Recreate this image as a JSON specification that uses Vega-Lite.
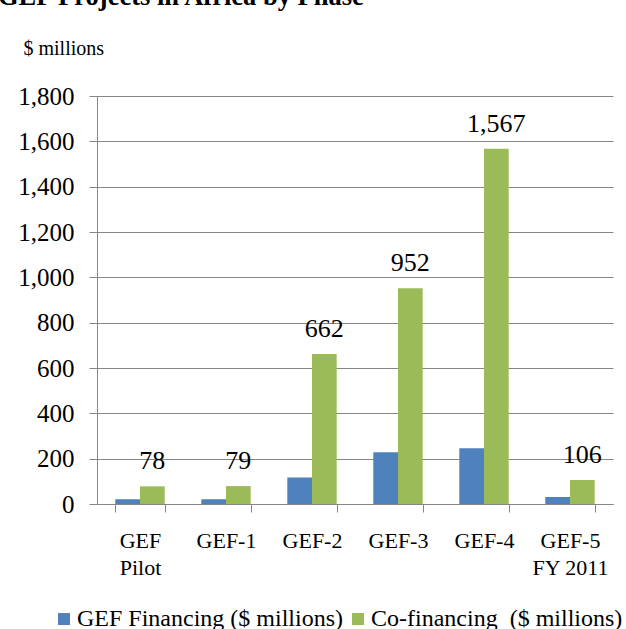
{
  "$schema": "https://vega.github.io/schema/vega-lite/v6.json",
  "autosize": {"type": "none"},
  "width": 516,
  "height": 408,
  "padding": {"left": 97, "top": 96, "right": 13, "bottom": 125},
  "background": "white",
  "title": {
    "text": "GEF Projects in Africa by Phase",
    "anchor": "start",
    "frame": "group",
    "font": "Liberation Serif",
    "fontSize": 26.5,
    "fontWeight": "bold",
    "color": "black",
    "dx": -99,
    "dy": -24
  },
  "data": {
    "values": [
      {"phase": "GEF Pilot", "series": "GEF Financing ($ millions)", "value": 21},
      {"phase": "GEF Pilot", "series": "Co-financing \u00a0($ millions)", "value": 78},
      {"phase": "GEF-1", "series": "GEF Financing ($ millions)", "value": 21},
      {"phase": "GEF-1", "series": "Co-financing \u00a0($ millions)", "value": 79},
      {"phase": "GEF-2", "series": "GEF Financing ($ millions)", "value": 117},
      {"phase": "GEF-2", "series": "Co-financing \u00a0($ millions)", "value": 662},
      {"phase": "GEF-3", "series": "GEF Financing ($ millions)", "value": 228},
      {"phase": "GEF-3", "series": "Co-financing \u00a0($ millions)", "value": 952},
      {"phase": "GEF-4", "series": "GEF Financing ($ millions)", "value": 246},
      {"phase": "GEF-4", "series": "Co-financing \u00a0($ millions)", "value": 1567},
      {"phase": "GEF-5 FY 2011", "series": "GEF Financing ($ millions)", "value": 31},
      {"phase": "GEF-5 FY 2011", "series": "Co-financing \u00a0($ millions)", "value": 106}
    ]
  },
  "encoding": {
    "x": {
      "field": "phase",
      "type": "nominal",
      "sort": null,
      "scale": {"paddingInner": 0.4256, "paddingOuter": 0.2128},
      "axis": {
        "title": null,
        "labelAngle": 0,
        "labelFont": "Liberation Serif",
        "labelFontSize": 22,
        "labelColor": "black",
        "labelLineHeight": 27,
        "labelPadding": 18,
        "labelExpr": "datum.value == 'GEF Pilot' ? ['GEF', 'Pilot'] : datum.value == 'GEF-5 FY 2011' ? ['GEF-5', 'FY 2011'] : datum.value",
        "tickBand": "extent",
        "tickSize": 8,
        "tickColor": "#868686",
        "domainColor": "#868686",
        "grid": false
      }
    },
    "xOffset": {"field": "series", "type": "nominal", "sort": null, "scale": {"paddingInner": 0, "paddingOuter": 0}},
    "y": {
      "field": "value",
      "type": "quantitative",
      "scale": {"domain": [0, 1800], "nice": false},
      "axis": {
        "values": [0, 200, 400, 600, 800, 1000, 1200, 1400, 1600, 1800],
        "format": ",.0f",
        "title": "$ millions",
        "titleAngle": 0,
        "titleAlign": "left",
        "titleBaseline": "alphabetic",
        "titleX": -74,
        "titleY": -42,
        "titleFont": "Liberation Serif",
        "titleFontSize": 20,
        "titleFontWeight": "normal",
        "titleColor": "black",
        "labelFont": "Liberation Serif",
        "labelFontSize": 25,
        "labelColor": "black",
        "labelPadding": 15,
        "tickSize": 8,
        "tickColor": "#868686",
        "domainColor": "#868686",
        "gridColor": "#868686",
        "grid": true
      }
    }
  },
  "layer": [
    {
      "mark": {"type": "bar"},
      "encoding": {
        "color": {
          "field": "series",
          "type": "nominal",
          "sort": null,
          "scale": {"range": ["#4F81BD", "#9BBB59"]},
          "legend": {
            "title": null,
            "orient": "none",
            "direction": "horizontal",
            "legendX": -45,
            "legendY": 511,
            "symbolType": "square",
            "symbolSize": 144,
            "symbolStrokeWidth": 0,
            "labelFont": "Liberation Serif",
            "labelFontSize": 24,
            "labelColor": "black",
            "labelOffset": 1,
            "columnPadding": 3,
            "labelLimit": 400
          }
        }
      }
    },
    {
      "transform": [{"filter": "datum.series != 'GEF Financing ($ millions)'"}],
      "mark": {"type": "text", "font": "Liberation Serif", "fontSize": 26, "baseline": "alphabetic", "dy": -17, "color": "black"},
      "encoding": {
        "text": {"field": "value", "type": "quantitative", "format": ",.0f"}
      }
    }
  ],
  "config": {"view": {"stroke": null}, "font": "Liberation Serif"}
}
